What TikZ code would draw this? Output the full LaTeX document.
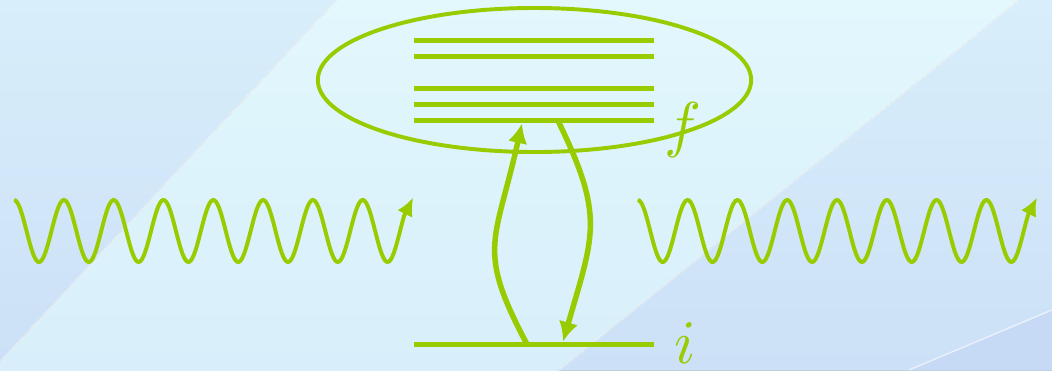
\documentclass[tikz,border=0pt]{standalone}
\usepackage{tikz}
\usetikzlibrary{positioning, shapes.geometric, arrows.meta}
\definecolor{levelGreen}{HTML}{99CC00}
\definecolor{skyLight}{HTML}{E2F8FD}
\definecolor{skyMid}{HTML}{D8EEFA}
\definecolor{skyDeep}{HTML}{CCE0F7}
\definecolor{skyDark}{HTML}{C6D9F5}

\begin{document}
\begin{tikzpicture}[x=0.025cm, y=0.025cm,
  level/.style={draw=levelGreen, line width=3.8pt},
  trans/.style={draw=levelGreen, line width=3.9pt,
    -{Latex[length=14pt, width=14pt]}},
  photon/.style={draw=levelGreen, line width=2.8pt,
    -{Latex[length=13pt, width=12pt]}},
  label/.style={text=levelGreen, anchor=base, inner sep=0pt, scale=4.4}]

\useasboundingbox (0,0) rectangle (1052,370);

% background
\fill[top color=skyLight, bottom color=skyMid] (0,0) rectangle (1052,370);
\fill[top color=skyMid, bottom color=skyDeep] (0,370) -- (337,370) -- (0,8) -- cycle;
\fill[top color=skyMid, bottom color=skyDeep] (1019,370) -- (1052,370) -- (1052,0) -- (559,0) -- cycle;
\fill[skyDark] (909,0) -- (1052,60) -- (1052,0) -- cycle;
\draw[white, opacity=0.6, line width=1pt] (0,8) -- (337,370) (559,0) -- (1019,370) (909,0) -- (1052,60);

% final band
\node[ellipse, draw=levelGreen, line width=2.8pt, minimum width=10.83cm,
      minimum height=3.6cm, inner sep=0pt] (band) at (534.5,290) {};

\foreach \ly [count=\k] in {329.3, 313.3, 281.3, 265.3, 249.3} {
  \coordinate (f\k w) at (414,\ly);
  \coordinate (f\k e) at (654,\ly);
  \draw[level] (f\k w) -- (f\k e);
}

% initial level
\coordinate (iw) at (414,25.7);
\coordinate (ie) at (654,25.7);
\draw[level] (iw) -- (ie);

\node[label] (flabel) at (683,225) {$f$};
\node[label] (ilabel) at (685,6.5) {$i$};

% transitions
\coordinate (upfrom) at (527,25.7);
\coordinate (upto) at (522,246.6);
\coordinate (downfrom) at (558,249.3);
\coordinate (downto) at (563,28.4);
\draw[trans] (upfrom) .. controls (476,122) and (495,126) .. (upto);
\draw[trans] (downfrom) .. controls (605,153) and (594,136) .. (downto);

% incoming and outgoing photons
\draw[photon] plot[smooth, domain=-180:2640, samples=260]
  ({39+0.13833*\x}, {139-31*cos(\x)}) -- ++(9,18);
\draw[photon] plot[smooth, domain=-180:2640, samples=260]
  ({662.7+0.13833*\x}, {139-31*cos(\x)}) -- ++(9,18);

\end{tikzpicture}
\end{document}
